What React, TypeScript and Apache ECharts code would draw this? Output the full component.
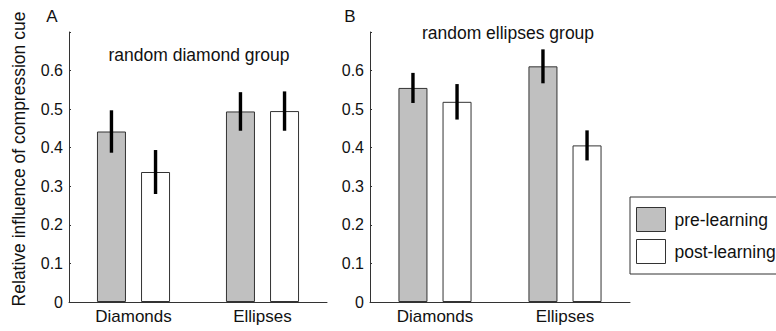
import React, { useEffect, useRef } from "react";
import * as echarts from "echarts";

const categories = ["Diamonds", "Ellipses"];
const seriesNames = ["pre-learning", "post-learning"];
const yTicks = [0, 0.1, 0.2, 0.3, 0.4, 0.5, 0.6, 0.7];

const preA = [0.442, 0.494];
const preAErr = [0.055, 0.05];
const postA = [0.337, 0.495];
const postAErr = [0.057, 0.051];

const preB = [0.555, 0.611];
const preBErr = [0.039, 0.044];
const postB = [0.519, 0.406];
const postBErr = [0.046, 0.039];

const titleA = "random diamond group";
const titleB = "random ellipses group";
const yName = "Relative influence of compression cue";

const FONT = "'Liberation Sans', Arial, Helvetica, sans-serif";
const TXT = "#111";
const AX = "#333";
const BAR_W = 29;
const BAR_GAP = 0.52;
const OFFSET = (BAR_W * (1 + BAR_GAP)) / 2;

function errSeries(vals: number[], errs: number[], idx: number, sign: number) {
  return {
    type: "custom",
    xAxisIndex: idx,
    yAxisIndex: idx,
    z: 10,
    silent: true,
    data: vals.map((v, i) => [i, v, errs[i]]),
    renderItem: (params: any, api: any) => {
      const c = api.value(0);
      const v = api.value(1);
      const e = api.value(2);
      const hi = api.coord([c, v + e]);
      const lo = api.coord([c, v - e]);
      const x = hi[0] + sign * OFFSET;
      return {
        type: "line",
        shape: { x1: x, y1: hi[1], x2: x, y2: lo[1] },
        style: { stroke: "#000", lineWidth: 3.4 },
      };
    },
  };
}

function barSeries(name: string, vals: number[], idx: number, color: string) {
  return {
    name,
    type: "bar",
    xAxisIndex: idx,
    yAxisIndex: idx,
    barWidth: BAR_W,
    barGap: `${BAR_GAP * 100}%`,
    data: vals,
    itemStyle: { color, borderColor: AX, borderWidth: 1 },
  };
}

function yAxis(idx: number) {
  return {
    type: "value",
    gridIndex: idx,
    min: yTicks[0],
    max: yTicks[yTicks.length - 1],
    interval: 0.1,
    axisLine: { show: true, lineStyle: { color: AX, width: 1 } },
    axisTick: { show: true, inside: true, length: 2, lineStyle: { color: AX } },
    splitLine: { show: false },
    axisLabel: {
      fontSize: 16,
      fontFamily: FONT,
      color: TXT,
      margin: 6,
      formatter: (v: number) =>
        Math.abs(v - 0.7) < 1e-6 ? "" : v === 0 ? "0" : v.toFixed(1),
    },
  };
}

function xAxis(idx: number) {
  return {
    type: "category",
    gridIndex: idx,
    data: categories,
    axisLine: { show: true, lineStyle: { color: AX, width: 1 } },
    axisTick: { show: false },
    axisLabel: { fontSize: 17, fontFamily: FONT, color: TXT, margin: 6 },
  };
}

export default function App() {
  const ref = useRef<HTMLDivElement>(null);
  useEffect(() => {
    if (!ref.current) return;
    const chart = echarts.init(ref.current, null, { renderer: "svg" });
    chart.setOption({
      animation: false,
      backgroundColor: "#fff",
      textStyle: { fontFamily: FONT },
      grid: [
        { left: 69, top: 32, width: 258, height: 270 },
        { left: 370, top: 32, width: 260, height: 270 },
      ],
      xAxis: [xAxis(0), xAxis(1)],
      yAxis: [yAxis(0), yAxis(1)],
      legend: {
        orient: "vertical",
        left: 630,
        top: 197,
        itemWidth: 29,
        itemHeight: 24,
        itemGap: 7,
        padding: [10, 20, 10, 6],
        borderColor: AX,
        borderWidth: 1,
        selectedMode: false,
        textStyle: { fontSize: 17.5, fontFamily: FONT, color: TXT, padding: [0, 0, 0, 4] },
        data: [
          { name: seriesNames[0], icon: "rect", itemStyle: { color: "#c0c0c0", borderColor: AX, borderWidth: 1 } },
          { name: seriesNames[1], icon: "rect", itemStyle: { color: "#fff", borderColor: AX, borderWidth: 1 } },
        ],
      },
      graphic: [
        {
          type: "text",
          x: 19,
          y: 159,
          rotation: Math.PI / 2,
          style: { text: yName, fontSize: 17.5, fontFamily: FONT, fill: TXT, align: "center", verticalAlign: "middle" },
        },
        {
          type: "text",
          x: 199,
          y: 55,
          style: { text: titleA, fontSize: 17.5, fontFamily: FONT, fill: TXT, align: "center", verticalAlign: "middle" },
        },
        {
          type: "text",
          x: 508,
          y: 33,
          style: { text: titleB, fontSize: 17.5, fontFamily: FONT, fill: TXT, align: "center", verticalAlign: "middle" },
        },
        {
          type: "text",
          x: 52,
          y: 16,
          style: { text: "A", fontSize: 17, fontFamily: FONT, fill: TXT, align: "center", verticalAlign: "middle" },
        },
        {
          type: "text",
          x: 350,
          y: 16,
          style: { text: "B", fontSize: 17, fontFamily: FONT, fill: TXT, align: "center", verticalAlign: "middle" },
        },
      ],
      series: [
        barSeries(seriesNames[0], preA, 0, "#c0c0c0"),
        barSeries(seriesNames[1], postA, 0, "#ffffff"),
        barSeries(seriesNames[0], preB, 1, "#c0c0c0"),
        barSeries(seriesNames[1], postB, 1, "#ffffff"),
        errSeries(preA, preAErr, 0, -1),
        errSeries(postA, postAErr, 0, 1),
        errSeries(preB, preBErr, 1, -1),
        errSeries(postB, postBErr, 1, 1),
      ],
    });
    return () => chart.dispose();
  }, []);
  return (
    <div
      style={{
        position: "fixed",
        left: 0,
        top: 0,
        width: 776,
        height: 331,
        overflow: "hidden",
        background: "#fff",
      }}
    >
      <div ref={ref} style={{ width: 800, height: 331 }} />
    </div>
  );
}
